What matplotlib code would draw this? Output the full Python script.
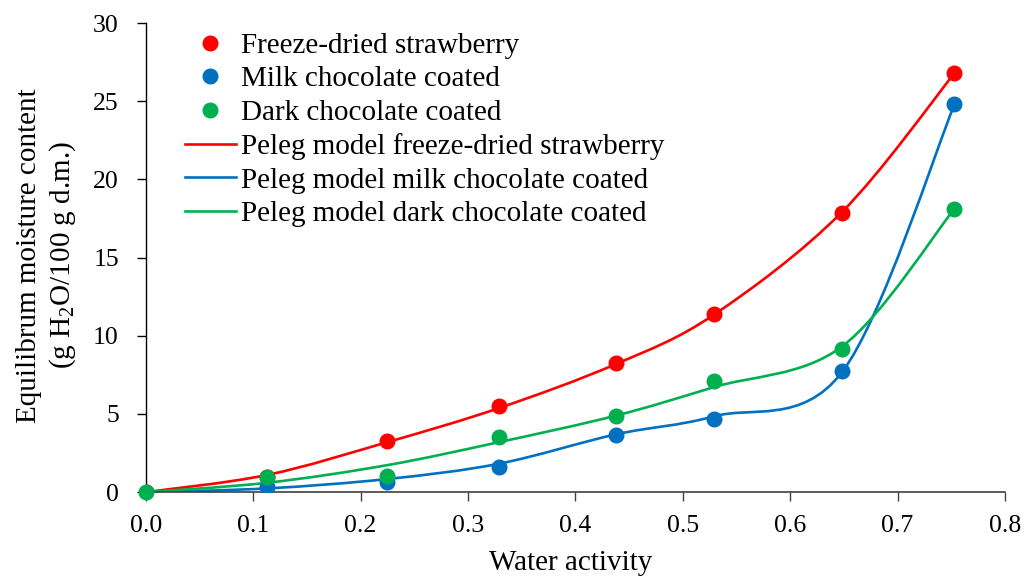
import numpy as np
import matplotlib
matplotlib.use("Agg")
import matplotlib.pyplot as plt
from matplotlib.path import Path
from matplotlib.patches import PathPatch
from matplotlib.lines import Line2D

plt.rcParams['font.family'] = ['Liberation Serif', 'DejaVu Serif']
plt.rcParams['mathtext.fontset'] = 'custom'
plt.rcParams['mathtext.rm'] = 'Liberation Serif'

# water activity of the salt solutions
aw = [0.0, 0.113, 0.225, 0.329, 0.438, 0.529, 0.648, 0.753]

# measured equilibrium moisture content
strawberry = [0.0, 1.0, 3.26, 5.52, 8.25, 11.4, 17.85, 26.8]
milk_choc = [0.0, 0.35, 0.68, 1.62, 3.63, 4.65, 7.72, 24.8]
dark_choc = [0.0, 0.97, 1.02, 3.5, 4.85, 7.1, 9.13, 18.13]

# Peleg model predictions at the same aw
peleg_strawberry = [0.0, 1.1, 3.2, 5.38, 8.2, 11.35, 17.9, 26.8]
peleg_milk = [0.0, 0.24, 0.84, 1.82, 3.7, 4.85, 7.65, 24.8]
peleg_dark = [0.0, 0.6, 1.73, 3.2, 4.9, 6.72, 9.3, 18.13]

RED, BLUE, GREEN = '#FF0000', '#0070C0', '#00B050'
TXT = 21
TICK = 18.5


def smooth_path(x, y):
    # cubic bezier through the points, Catmull-Rom style tangents
    pts = np.column_stack([x, y])
    ext = np.vstack([pts[0], pts, pts[-1]])
    verts = [pts[0]]
    codes = [Path.MOVETO]
    for i in range(1, len(ext) - 2):
        p0, p1, p2, p3 = ext[i - 1], ext[i], ext[i + 1], ext[i + 2]
        verts += [p1 + (p2 - p0) / 6, p2 - (p3 - p1) / 6, p2]
        codes += [Path.CURVE4] * 3
    return Path(verts, codes)


fig = plt.figure(figsize=(10.26, 5.79), dpi=100)
ax = fig.add_axes([0.142, 0.150, 0.8375, 0.810])

for ys, c in [(peleg_strawberry, RED), (peleg_milk, BLUE), (peleg_dark, GREEN)]:
    ax.add_patch(PathPatch(smooth_path(aw, ys), fill=False, edgecolor=c,
                           lw=1.9, capstyle='round', zorder=2))

ax.plot(aw, strawberry, 'o', color=RED, ms=10.5, zorder=3)
ax.plot(aw, milk_choc, 'o', color=BLUE, ms=10.5, zorder=3)
ax.plot(aw, dark_choc, 'o', color=GREEN, ms=10.5, zorder=3, clip_on=False)

ax.set_xlim(0, 0.8)
ax.set_ylim(0, 30)
ax.set_xticks(np.arange(0, 0.81, 0.1))
ax.set_xticklabels([f'{v:.1f}' for v in np.arange(0, 0.81, 0.1)])
ax.set_yticks(range(0, 31, 5))
for s in ['top', 'right']:
    ax.spines[s].set_visible(False)
ax.spines['left'].set_linewidth(1.0)
ax.spines['bottom'].set_linewidth(1.2)
ax.spines['bottom'].set_color('#404040')
ax.tick_params(axis='both', labelsize=TICK, length=6.3, width=1.0, direction='out')
ax.tick_params(axis='x', pad=10, color='#404040')
ax.tick_params(axis='y', pad=13)

ax.set_xlabel('Water activity', fontsize=TXT, va='center')
ax.xaxis.set_label_coords(0.495, -0.151)
ax.set_ylabel('Equilibrum moisture content\n(g H$_2$O/100 g d.m.)',
              fontsize=TXT, linespacing=1.25, va='center')
ax.yaxis.set_label_coords(-0.115, 0.505)

handles = [
    Line2D([], [], ls='none', marker='o', color=RED, ms=10.5),
    Line2D([], [], ls='none', marker='o', color=BLUE, ms=10.5),
    Line2D([], [], ls='none', marker='o', color=GREEN, ms=10.5),
    Line2D([], [], color=RED, lw=1.9),
    Line2D([], [], color=BLUE, lw=1.9),
    Line2D([], [], color=GREEN, lw=1.9),
]
labels = ['Freeze-dried strawberry', 'Milk chocolate coated', 'Dark chocolate coated',
          'Peleg model freeze-dried strawberry', 'Peleg model milk chocolate coated',
          'Peleg model dark chocolate coated']
ax.legend(handles, labels, loc='upper left', bbox_to_anchor=(0.032, 1.005),
          frameon=False, fontsize=TXT, handlelength=1.75, handletextpad=0.17,
          labelspacing=0.245, borderaxespad=0)

fig.savefig('out.png', dpi=100)
